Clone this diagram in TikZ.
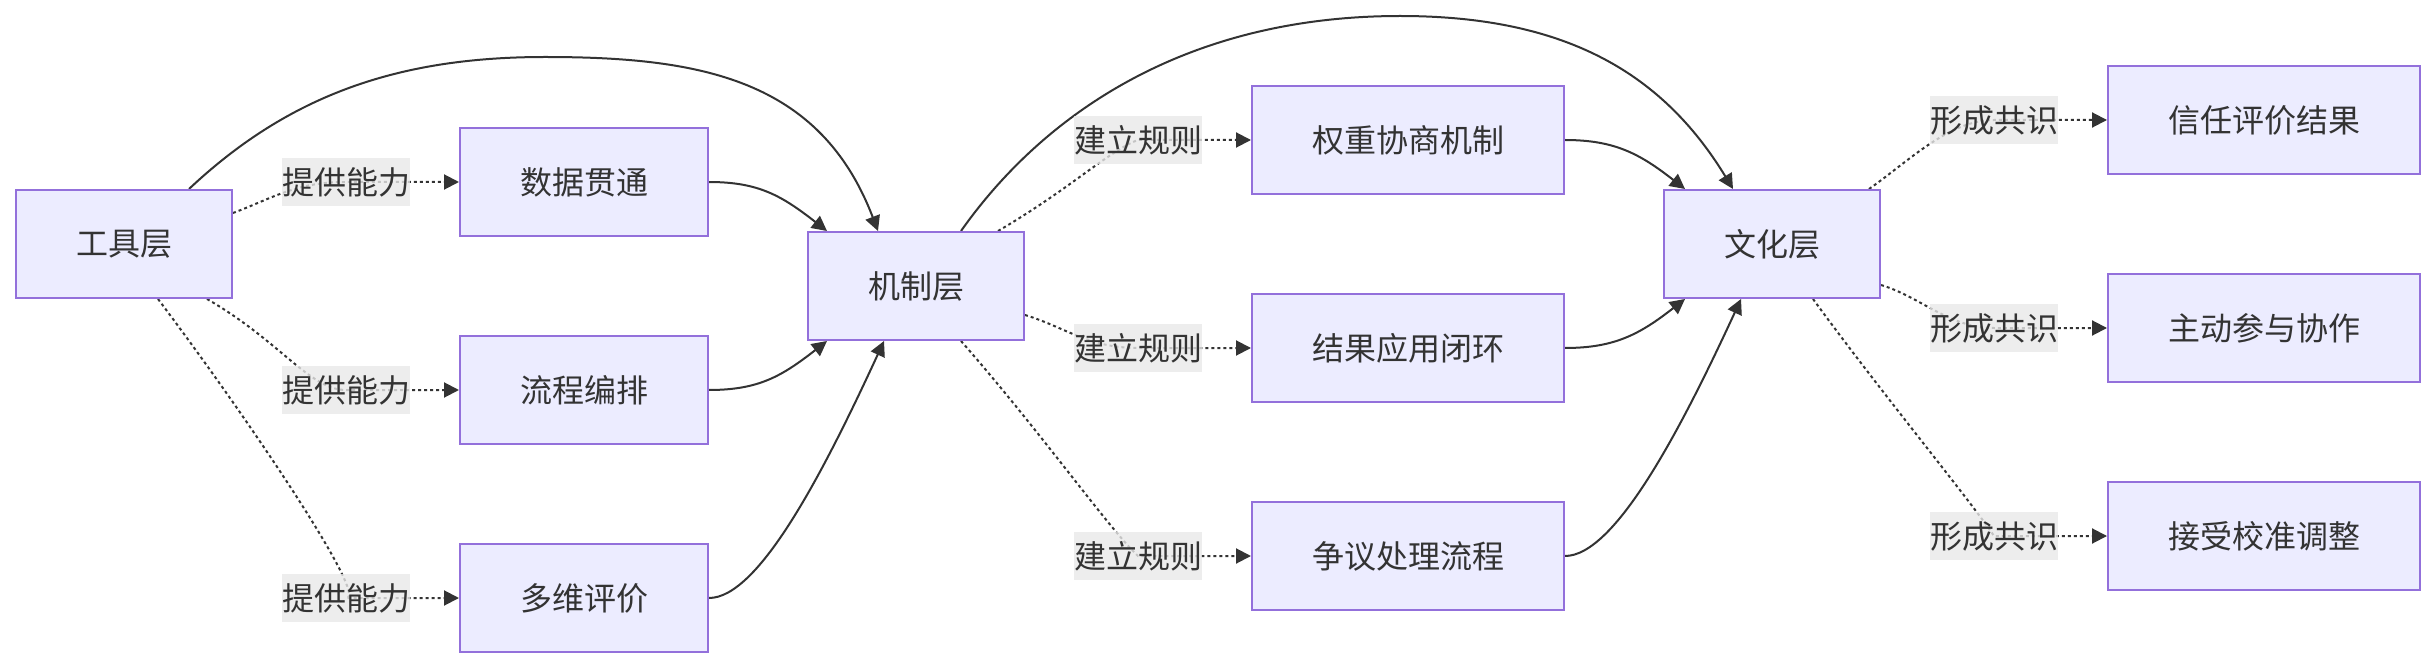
\documentclass[tikz,border=0pt]{standalone}
\usepackage{fontspec}
\setmainfont{Noto Sans CJK SC}
\usetikzlibrary{arrows.meta, calc, backgrounds}
\definecolor{boxfill}{HTML}{ECECFF}
\definecolor{boxline}{HTML}{9370DB}
\definecolor{ink}{HTML}{333333}
\definecolor{labelgray}{HTML}{E8E8E8}

\begin{document}
\begin{tikzpicture}[x=0.5pt, y=-0.5pt,
    layerbox/.style={draw=boxline, fill=boxfill, line width=1pt, text=ink,
        font=\fontsize{16pt}{19pt}\selectfont, inner xsep=30pt, inner ysep=0pt, minimum height=54pt},
    rulelabel/.style={fill=labelgray, fill opacity=0.8, text opacity=1, text=ink,
        font=\fontsize{16pt}{19pt}\selectfont, inner sep=0pt, minimum height=24pt},
    link/.style={draw=ink, line width=1pt, -{Triangle[length=7.5pt, width=7.5pt]}},
    flowlink/.style={link, dash pattern=on 1.5pt off 1.5pt}]
    \useasboundingbox (0,0) rectangle (2436,668);

    % Tool layer
    \node[layerbox] (tool) at (124,244) {工具层};
    \node[layerbox] (data) at (584,182) {数据贯通};
    \node[layerbox] (orch) at (584,390) {流程编排};
    \node[layerbox] (eval) at (584,598) {多维评价};
    \node[rulelabel] (t1) at (346,182) {提供能力};
    \node[rulelabel] (t2) at (346,390) {提供能力};
    \node[rulelabel] (t3) at (346,598) {提供能力};

    % Mechanism layer
    \node[layerbox] (mech) at (916,286) {机制层};
    \node[layerbox] (weight) at (1408,140) {权重协商机制};
    \node[layerbox] (result) at (1408,348) {结果应用闭环};
    \node[layerbox] (dispute) at (1408,556) {争议处理流程};
    \node[rulelabel] (m1) at (1138,140) {建立规则};
    \node[rulelabel] (m2) at (1138,348) {建立规则};
    \node[rulelabel] (m3) at (1138,556) {建立规则};

    % Culture layer
    \node[layerbox] (culture) at (1772,244) {文化层};
    \node[layerbox] (trust) at (2264,120) {信任评价结果};
    \node[layerbox] (active) at (2264,328) {主动参与协作};
    \node[layerbox] (accept) at (2264,536) {接受校准调整};
    \node[rulelabel] (c1) at (1994,120) {形成共识};
    \node[rulelabel] (c2) at (1994,328) {形成共识};
    \node[rulelabel] (c3) at (1994,536) {形成共识};

    \begin{scope}[on background layer]
    % solid links
    \draw[link] ($(tool.north)+(65,0)$) .. controls +(101,-95) and +(-145,0) .. (545,57)
        .. controls +(155,0) and +(-58,-152) .. ($(mech.north)+(-38,0)$);
    \draw[link] (data.east) .. controls +(50,0) and +(-45,-35) .. ($(mech.north)+(-89,0)$);
    \draw[link] (orch.east) .. controls +(50,0) and +(-45,35) .. ($(mech.south)+(-89,0)$);
    \draw[link] (eval.east) .. controls +(50,0) and +(-60,130) .. ($(mech.south)+(-32,0)$);
    \draw[link] ($(mech.north)+(45,0)$) .. controls +(79,-112) and +(-220,0) .. (1400,16)
        .. controls +(160,0) and +(-73,-120) .. ($(culture.north)+(-39,0)$);
    \draw[link] (weight.east) .. controls +(50,0) and +(-45,-35) .. ($(culture.north)+(-87,0)$);
    \draw[link] (result.east) .. controls +(50,0) and +(-45,35) .. ($(culture.south)+(-87,0)$);
    \draw[link] (dispute.east) .. controls +(50,0) and +(-60,130) .. ($(culture.south)+(-31,0)$);

    % dotted links through the labels
    \draw[flowlink] ($(tool.east)+(0,-31)$) .. controls +(40,-15) and +(-50,0) .. (t1.center) -- (data.west);
    \draw[flowlink] ($(tool.south)+(83,0)$) .. controls +(73,42) and +(-36,0) .. (t2.center) -- (orch.west);
    \draw[flowlink] ($(tool.south)+(34,0)$) .. controls +(92,122) and +(24,2) .. (t3.center) -- (eval.west);
    \draw[flowlink] ($(mech.north)+(82,0)$) .. controls +(72,-42) and +(-28,10) .. (m1.center) -- (weight.west);
    \draw[flowlink] ($(mech.east)+(0,29)$) .. controls +(40,12) and +(-50,0) .. (m2.center) -- (result.west);
    \draw[flowlink] ($(mech.south)+(45,0)$) .. controls +(79,90) and +(-28,-26) .. (m3.center) -- (dispute.west);
    \draw[flowlink] ($(culture.north)+(97,0)$) .. controls +(40,-28) and +(-45,0) .. (c1.center) -- (trust.west);
    \draw[flowlink] ($(culture.east)+(0,41)$) .. controls +(40,12) and +(-45,0) .. (c2.center) -- (active.west);
    \draw[flowlink] ($(culture.south)+(41,0)$) .. controls +(67,92) and +(-24,-36) .. (c3.center) -- (accept.west);
    \end{scope}
\end{tikzpicture}
\end{document}
